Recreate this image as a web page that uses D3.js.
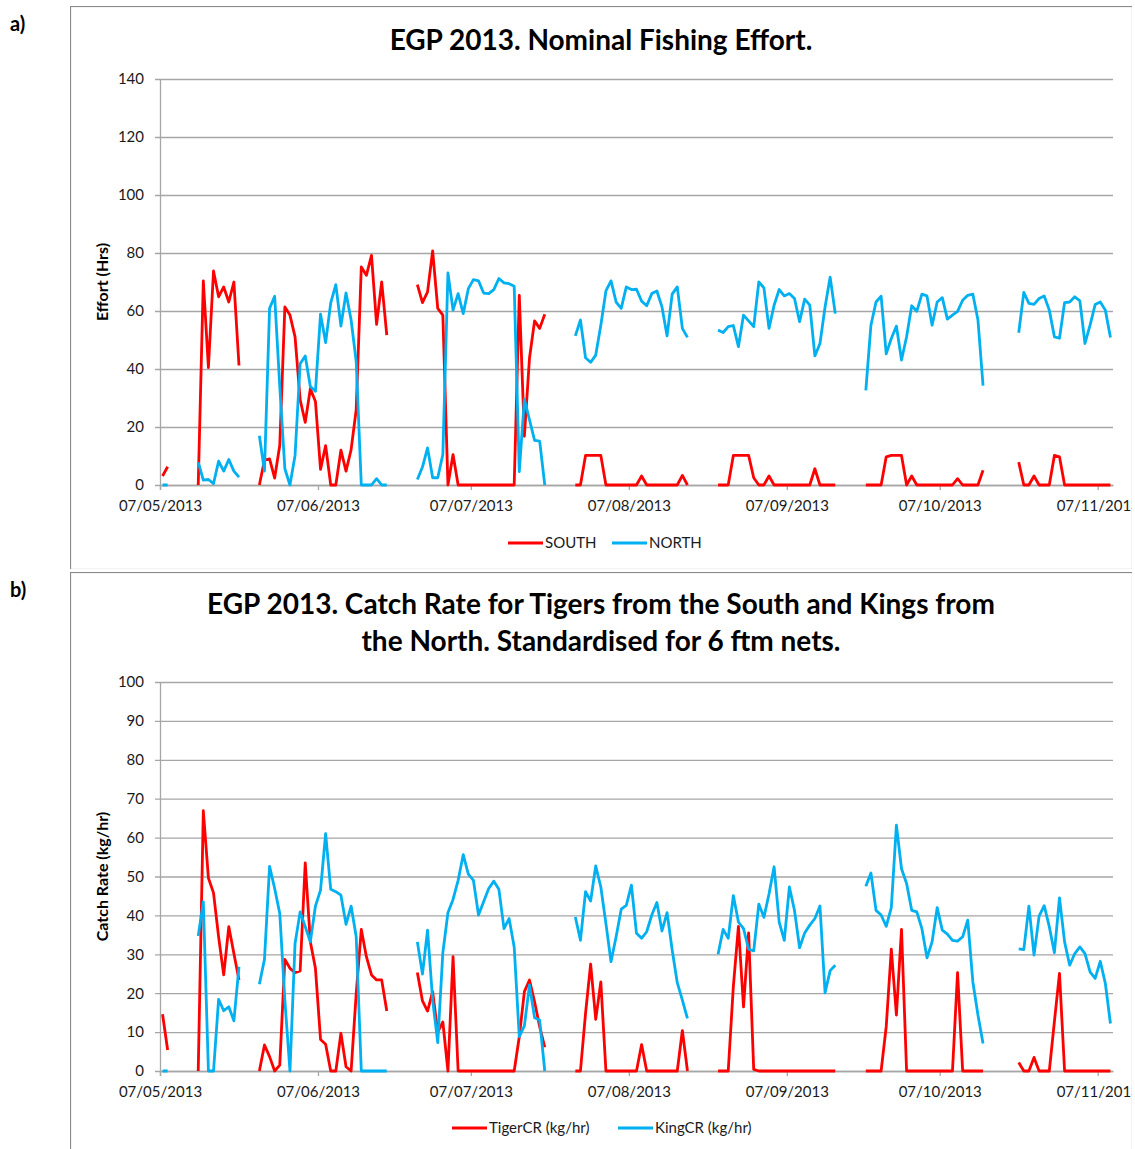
<!DOCTYPE html>
<html>
<head>
<meta charset="utf-8">
<script src="https://cdn.jsdelivr.net/npm/d3@7"></script>
<style>
  body { margin: 0; background: #fff; }
  text { font-family: Lato, "Open Sans", sans-serif; }
</style>
</head>
<body>
<svg id="chart"></svg>
<script>
// daily values, first day 07/05/2013, null = no fishing that day
var startDay = "07/05/2013";
var tickLabels = ["07/05/2013", "07/06/2013", "07/07/2013", "07/08/2013", "07/09/2013", "07/10/2013", "07/11/2013"];
var effortTicks = [0, 20, 40, 60, 80, 100, 120, 140];
var catchTicks = [0, 10, 20, 30, 40, 50, 60, 70, 80, 90, 100];

var south = [3.1, 6.3, null, null, null, null, null,
  0, 70.4, 40.5, 73.8, 64.9, 68.3, 63.1, 70.0, 41.2, null, null, null,
  0, 8.6, 9.0, 2.4, 13.7, 61.4, 58.6, 51.1, 29.4, 21.6, 33.2, 28.8, 5.4, 13.6, 0, 0, 12.0, 4.8, 12.2, 26.0, 75.2, 72.3, 79.2, 55.4, 70.0, 51.7,
  null, null, null, null, null,
  69.1, 62.9, 66.6, 80.7, 60.9, 58.6, 0, 10.5, 0, 0, 0, 0, 0, 0, 0, 0, 0, 0, 0, 0, 65.4, 16.8, 43.7, 56.6, 54.0, 58.9,
  null, null, null, null, null,
  0, 0, 10.2, 10.2, 10.2, 10.2, 0, 0, 0, 0, 0, 0, 0, 3.1, 0, 0, 0, 0, 0, 0, 0, 3.3, 0,
  null, null, null, null, null,
  0, 0, 0, 10.2, 10.2, 10.2, 10.2, 2.5, 0, 0, 3.1, 0, 0, 0, 0, 0, 0, 0, 0, 5.6, 0, 0, 0, 0,
  null, null, null, null, null,
  0, 0, 0, 0, 9.7, 10.2, 10.2, 10.2, 0, 3.1, 0, 0, 0, 0, 0, 0, 0, 0, 2.2, 0, 0, 0, 0, 5.1,
  null, null, null, null, null, null,
  7.9, 0, 0, 3.1, 0, 0, 0, 10.2, 9.7, 0, 0, 0, 0, 0, 0, 0, 0, 0, 0];

var north = [0, 0, null, null, null, null, null,
  7.9, 1.7, 1.9, 0.5, 8.2, 4.8, 8.8, 4.8, 2.7, null, null, null,
  17.0, 4.8, 60.9, 65.1, 34.0, 5.6, 0, 10.2, 41.8, 44.5, 34.0, 32.3, 58.9, 49.1, 62.8, 69.1, 54.8, 66.2, 56.9, 42.6, 0, 0, 0, 2.2, 0, 0,
  null, null, null, null, null,
  1.9, 6.2, 12.8, 2.5, 2.5, 10.5, 73.1, 60.3, 66.0, 59.1, 67.7, 70.8, 70.4, 66.2, 66.0, 67.4, 71.2, 69.7, 69.4, 68.5, 4.6, 29.6, 22.5, 15.4, 15.1, 0,
  null, null, null, null, null,
  51.4, 56.9, 43.9, 42.3, 44.8, 55.1, 66.9, 70.4, 63.1, 60.9, 68.3, 67.4, 67.5, 63.4, 61.8, 66.0, 66.9, 61.4, 51.4, 65.8, 68.3, 54.0, 50.9,
  null, null, null, null, null,
  53.4, 52.6, 54.6, 55.0, 47.7, 58.6, 56.6, 54.6, 70.0, 68.0, 54.0, 62.0, 67.4, 65.2, 66.0, 64.3, 56.3, 64.1, 62.0, 44.5, 48.8, 61.4, 71.7, 59.1,
  null, null, null, null, null,
  32.6, 55.1, 63.1, 65.1, 45.2, 50.5, 54.8, 43.1, 51.1, 61.8, 59.9, 65.8, 65.2, 55.1, 63.1, 64.6, 57.2, 58.6, 59.9, 63.7, 65.4, 65.8, 56.9, 34.3,
  null, null, null, null, null, null,
  52.5, 66.4, 62.6, 62.3, 64.3, 65.2, 60.3, 51.1, 50.6, 62.9, 63.1, 64.9, 63.5, 48.8, 55.1, 62.2, 63.1, 60.3, 50.9];

var tigerCR = [14.6, 5.4, null, null, null, null, null,
  0, 66.9, 49.6, 45.8, 34.5, 24.7, 37.1, 30.2, 23.4, null, null, null,
  0, 6.7, 3.7, 0, 1.5, 28.7, 26.4, 25.3, 25.7, 53.5, 33.2, 26.4, 8.1, 6.9, 0, 0, 9.7, 1.1, 0, 19.9, 36.4, 29.4, 24.7, 23.4, 23.4, 15.4,
  null, null, null, null, null,
  25.3, 18.0, 15.4, 20.4, 10.0, 12.6, 0, 29.4, 0, 0, 0, 0, 0, 0, 0, 0, 0, 0, 0, 0, 8.8, 20.4, 23.4, 17.8, 11.4, 6.1,
  null, null, null, null, null,
  0, 0, 14.8, 27.5, 13.3, 22.9, 0, 0, 0, 0, 0, 0, 0, 6.8, 0, 0, 0, 0, 0, 0, 0, 10.4, 0,
  null, null, null, null, null,
  0, 0, 0, 21.7, 37.2, 16.5, 35.5, 0.4, 0, 0, 0, 0, 0, 0, 0, 0, 0, 0, 0, 0, 0, 0, 0, 0,
  null, null, null, null, null,
  0, 0, 0, 0, 11.4, 31.3, 14.4, 36.4, 0, 0, 0, 0, 0, 0, 0, 0, 0, 0, 25.3, 0, 0, 0, 0, 0,
  null, null, null, null, null, null,
  2.2, 0, 0, 3.5, 0, 0, 0, 12.7, 25.1, 0, 0, 0, 0, 0, 0, 0, 0, 0, 0];

var kingCR = [0, 0, null, null, null, null, null,
  34.7, 43.5, 0, 0, 18.4, 15.5, 16.5, 12.9, 26.8, null, null, null,
  22.3, 28.7, 52.6, 46.9, 40.5, 18.2, 0, 32.8, 40.9, 37.1, 33.2, 42.4, 46.5, 61.0, 46.7, 46.1, 45.2, 37.7, 42.4, 34.5, 0, 0, 0, 0, 0, 0,
  null, null, null, null, null,
  33.2, 24.9, 36.2, 18.2, 7.3, 30.4, 40.7, 44.1, 49.0, 55.6, 50.6, 49.0, 40.1, 43.5, 46.9, 48.8, 46.7, 36.6, 39.2, 31.9, 8.8, 11.6, 22.1, 13.7, 13.1, 0,
  null, null, null, null, null,
  39.6, 33.6, 46.1, 43.7, 52.7, 47.3, 37.9, 28.1, 34.5, 41.6, 42.6, 47.8, 35.4, 34.1, 35.8, 40.1, 43.3, 36.0, 40.7, 31.1, 22.7, 18.2, 13.5,
  null, null, null, null, null,
  30.0, 36.4, 34.1, 45.1, 38.3, 36.6, 31.3, 30.9, 42.9, 39.5, 45.5, 52.5, 38.3, 33.6, 47.3, 41.3, 31.7, 35.5, 37.5, 39.2, 42.4, 20.1, 25.8, 27.2,
  null, null, null, null, null,
  47.5, 50.9, 41.3, 40.1, 37.2, 42.0, 63.2, 52.0, 48.2, 41.3, 40.9, 36.6, 29.1, 33.2, 42.0, 36.2, 35.2, 33.6, 33.4, 34.5, 38.8, 22.9, 14.4, 7.1,
  null, null, null, null, null, null,
  31.4, 31.2, 42.4, 29.8, 39.8, 42.5, 37.1, 30.4, 44.5, 33.2, 27.2, 30.2, 31.9, 30.2, 25.5, 23.8, 28.2, 22.5, 12.2];

var RED = "#ff0000", BLUE = "#00b0f0";
var parseDay = d3.timeParse("%d/%m/%Y");
var fmtDay = d3.timeFormat("%d/%m/%Y");
var day0 = parseDay(startDay);

var svg = d3.select("#chart").attr("width", 1135).attr("height", 1149);

// date axis, 07/05/2013 .. 10/11/2013, each day's point in the middle of its slot
var x = d3.scaleTime()
    .domain([day0, d3.timeDay.offset(day0, south.length)])
    .range([160, 1113]);

function dayPos(i) {
    return x(d3.timeHour.offset(d3.timeDay.offset(day0, i), 12));
}

function drawPanel(p) {
    var clip = svg.append("clipPath").attr("id", "clip" + p.id);
    clip.append("rect").attr("x", 70).attr("y", p.frameTop)
        .attr("width", 1062).attr("height", p.frameBottom - p.frameTop);

    var g = svg.append("g").attr("clip-path", "url(#clip" + p.id + ")");

    g.append("rect")
        .attr("x", 70.5).attr("y", p.frameTop + 0.5)
        .attr("width", 1062).attr("height", p.frameBottom - p.frameTop)
        .attr("fill", "#fff").attr("stroke", "#8a8a8a").attr("stroke-width", 1.2);

    var y = d3.scaleLinear().domain([0, p.yMax]).range([p.plotBottom, p.plotTop]);

    // gridlines + y labels
    var yAxis = g.append("g")
        .attr("transform", "translate(155,0)")
        .call(d3.axisLeft(y).tickValues(p.yTicks).tickSize(-(1113 - 155)).tickPadding(11));
    yAxis.select(".domain").remove();
    yAxis.selectAll(".tick line").attr("stroke", "#a6a6a6").attr("stroke-width", 1.3);
    yAxis.selectAll(".tick text").attr("font-size", 15).attr("fill", "#1a1a1a")
        .style("font-family", "Lato, sans-serif");

    // vertical axis line
    g.append("line")
        .attr("x1", 160.5).attr("x2", 160.5)
        .attr("y1", p.plotTop).attr("y2", p.plotBottom + 5)
        .attr("stroke", "#a6a6a6").attr("stroke-width", 1.3);

    // the last date label runs past the frame and gets cut, as in the original
    var xAxis = g.append("g")
        .attr("transform", "translate(0," + p.plotBottom + ")")
        .call(d3.axisBottom(x)
            .tickValues(tickLabels.map(parseDay))
            .tickFormat(fmtDay)
            .tickSizeInner(5).tickSizeOuter(0).tickPadding(10));
    xAxis.select(".domain").attr("stroke", "#a6a6a6").attr("stroke-width", 1.3);
    xAxis.selectAll(".tick line").attr("stroke", "#a6a6a6").attr("stroke-width", 1.3);
    xAxis.selectAll(".tick text").attr("font-size", 15).attr("fill", "#1a1a1a")
        .style("font-family", "Lato, sans-serif");

    // title
    p.title.forEach(function (t, i) {
        g.append("text")
            .attr("x", 601).attr("y", p.titleY + i * 37)
            .attr("text-anchor", "middle")
            .attr("font-size", 28).attr("font-weight", "bold")
            .text(t);
    });

    g.append("text")
        .attr("transform", "translate(108," + ((p.plotTop + p.plotBottom) / 2) + ") rotate(-90)")
        .attr("text-anchor", "middle")
        .attr("font-size", 16).attr("font-weight", "bold")
        .text(p.yLabel);

    var line = d3.line()
        .defined(function (d) { return d != null; })
        .x(function (d, i) { return dayPos(i); })
        .y(function (d) { return y(d); });

    p.series.forEach(function (s) {
        g.append("path")
            .datum(s.values)
            .attr("d", line)
            .attr("fill", "none")
            .attr("stroke", s.color)
            .attr("stroke-width", 2.8)
            .attr("stroke-linejoin", "round");
    });

    // legend
    p.series.forEach(function (s) {
        g.append("line")
            .attr("x1", s.legendX).attr("x2", s.legendX + 35)
            .attr("y1", p.legendY).attr("y2", p.legendY)
            .attr("stroke", s.color).attr("stroke-width", 2.8);
        g.append("text")
            .attr("x", s.legendX + 37).attr("y", p.legendY)
            .attr("dy", "0.35em")
            .attr("font-size", 15).attr("fill", "#1a1a1a")
            .text(s.name);
    });

    svg.append("text")
        .attr("x", 10).attr("y", p.frameTop + 25)
        .attr("font-size", 20).attr("font-weight", "bold")
        .text(p.label);
}

drawPanel({
    id: "a", label: "a)",
    frameTop: 6, frameBottom: 569,
    plotTop: 79, plotBottom: 485,
    yMax: 140, yTicks: effortTicks,
    title: ["EGP 2013. Nominal Fishing Effort."], titleY: 50,
    yLabel: "Effort (Hrs)",
    legendY: 543,
    series: [
        { name: "SOUTH", values: south, color: RED, legendX: 508 },
        { name: "NORTH", values: north, color: BLUE, legendX: 612 }
    ]
});

drawPanel({
    id: "b", label: "b)",
    frameTop: 572, frameBottom: 1170,
    plotTop: 682, plotBottom: 1071,
    yMax: 100, yTicks: catchTicks,
    title: ["EGP 2013. Catch Rate for Tigers from the South and Kings from",
            "the North. Standardised for 6 ftm nets."], titleY: 614,
    yLabel: "Catch Rate (kg/hr)",
    legendY: 1128,
    series: [
        { name: "TigerCR (kg/hr)", values: tigerCR, color: RED, legendX: 452 },
        { name: "KingCR (kg/hr)", values: kingCR, color: BLUE, legendX: 618 }
    ]
});
</script>
</body>
</html>
